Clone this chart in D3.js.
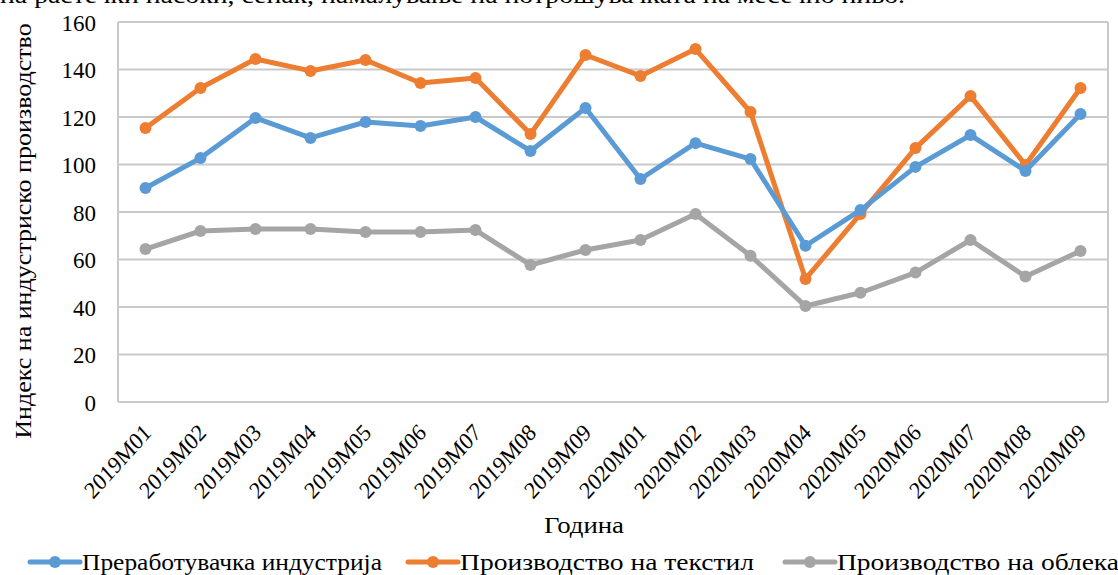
<!DOCTYPE html>
<html><head><meta charset="utf-8">
<script src="https://cdn.jsdelivr.net/npm/d3@7"></script>
<style>body{margin:0;background:#fff}svg{display:block}svg text{font-family:"Liberation Serif","Times New Roman","DejaVu Serif",serif !important;fill:#000}</style>
</head><body><svg id="c" width="1118" height="575"></svg>
<script>
const categories = ["2019M01","2019M02","2019M03","2019M04","2019M05","2019M06","2019M07","2019M08","2019M09","2020M01","2020M02","2020M03","2020M04","2020M05","2020M06","2020M07","2020M08","2020M09"];
const manufacturing = [90.1,102.7,119.6,111.2,117.9,116.2,120,105.7,123.8,93.9,109,102.3,65.8,80.8,99,112.4,97.3,121.3];
const textile = [115.4,132.2,144.4,139.4,144,134.3,136.4,112.8,146.1,137.3,148.6,122.1,51.8,79.2,106.9,128.8,99.8,132.2];
const apparel = [64.4,72,72.8,72.8,71.6,71.6,72.4,57.7,64,68.2,79.2,61.6,40.4,46,54.5,68.2,52.8,63.6];
const yTicks = [0,20,40,60,80,100,120,140,160];
const seriesNames = ["Преработувачка индустрија","Производство на текстил","Производство на облека"];
const colors = ["#5B9BD5","#ED7D31","#A5A5A5"];
const yTitle = "Индекс на индустриско производство";
const xTitle = "Година";
const topText = "на растечки насоки, сепак, намалување на потрошувачката на месечно ниво.";

const svg = d3.select("#c");
const L = 118, R = 1108, T = 22, B = 402;
const x = d3.scaleBand().domain(categories).range([L, R]);
const y = d3.scaleLinear().domain([0,160]).range([B, T]);
const cx = c => x(c) + x.bandwidth()/2;

svg.append("text").attr("x",0).attr("y",3).attr("font-size",24)
  .attr("textLength",905).attr("lengthAdjust","spacingAndGlyphs").text(topText);

// gridlines
svg.append("g").selectAll("line").data(yTicks).join("line")
  .attr("x1",L).attr("x2",R).attr("y1",d=>y(d)).attr("y2",d=>y(d))
  .attr("stroke","#C9C9C9").attr("stroke-width",2);
svg.append("line").attr("x1",L).attr("x2",L).attr("y1",T).attr("y2",B).attr("stroke","#C9C9C9").attr("stroke-width",2);
svg.append("line").attr("x1",R).attr("x2",R).attr("y1",T).attr("y2",B).attr("stroke","#C9C9C9").attr("stroke-width",2);

// y tick labels
const yAxis = svg.append("g").attr("transform",`translate(${L},0)`)
  .call(d3.axisLeft(y).tickValues(yTicks).tickSize(0).tickPadding(22));
yAxis.select(".domain").remove();
yAxis.selectAll("text").attr("font-size",23).attr("fill","#000").attr("dy","0.35em");

// x tick labels
const xAxis = svg.append("g").attr("transform",`translate(0,${B})`)
  .call(d3.axisBottom(x).tickSize(0));
xAxis.select(".domain").remove();
xAxis.selectAll("text").attr("font-size",24).attr("fill","#000")
  .attr("text-anchor","end").attr("dy",0).attr("y",0)
  .attr("transform","translate(7,32) scale(0.9,1) rotate(-45)");

// titles
svg.append("text").attr("transform","translate(31,231) scale(0.85,1) rotate(-90)").attr("text-anchor","middle")
  .attr("font-size",26).text(yTitle);
svg.append("text").attr("x",584).attr("y",533).attr("text-anchor","middle").attr("font-size",23)
  .attr("textLength",80).attr("lengthAdjust","spacingAndGlyphs").text(xTitle);

// series
const data = [apparel, textile, manufacturing];
const cols = [colors[2], colors[1], colors[0]];
const line = d3.line().x((d,i)=>cx(categories[i])).y(d=>y(d));
data.forEach((s,k)=>{
  const g = svg.append("g");
  g.append("path").datum(s).attr("d",line).attr("fill","none").attr("stroke",cols[k])
    .attr("stroke-width",5).attr("stroke-linejoin","round");
  g.selectAll("circle").data(s).join("circle")
    .attr("cx",(d,i)=>cx(categories[i])).attr("cy",d=>y(d)).attr("r",6).attr("fill",cols[k]);
});

// legend
const legX = [30, 408, 785];
const legW = [300, 294, 282];
seriesNames.forEach((n,i)=>{
  const g = svg.append("g").attr("transform",`translate(${legX[i]},562)`);
  g.append("line").attr("x1",0).attr("x2",50).attr("y1",0).attr("y2",0).attr("stroke",colors[i]).attr("stroke-width",5).attr("stroke-linecap","round");
  g.append("circle").attr("cx",25).attr("cy",0).attr("r",6).attr("fill",colors[i]);
  g.append("text").attr("x",52).attr("y",8).attr("font-size",24)
    .attr("textLength",legW[i]).attr("lengthAdjust","spacingAndGlyphs").text(n);
});
</script></body></html>
